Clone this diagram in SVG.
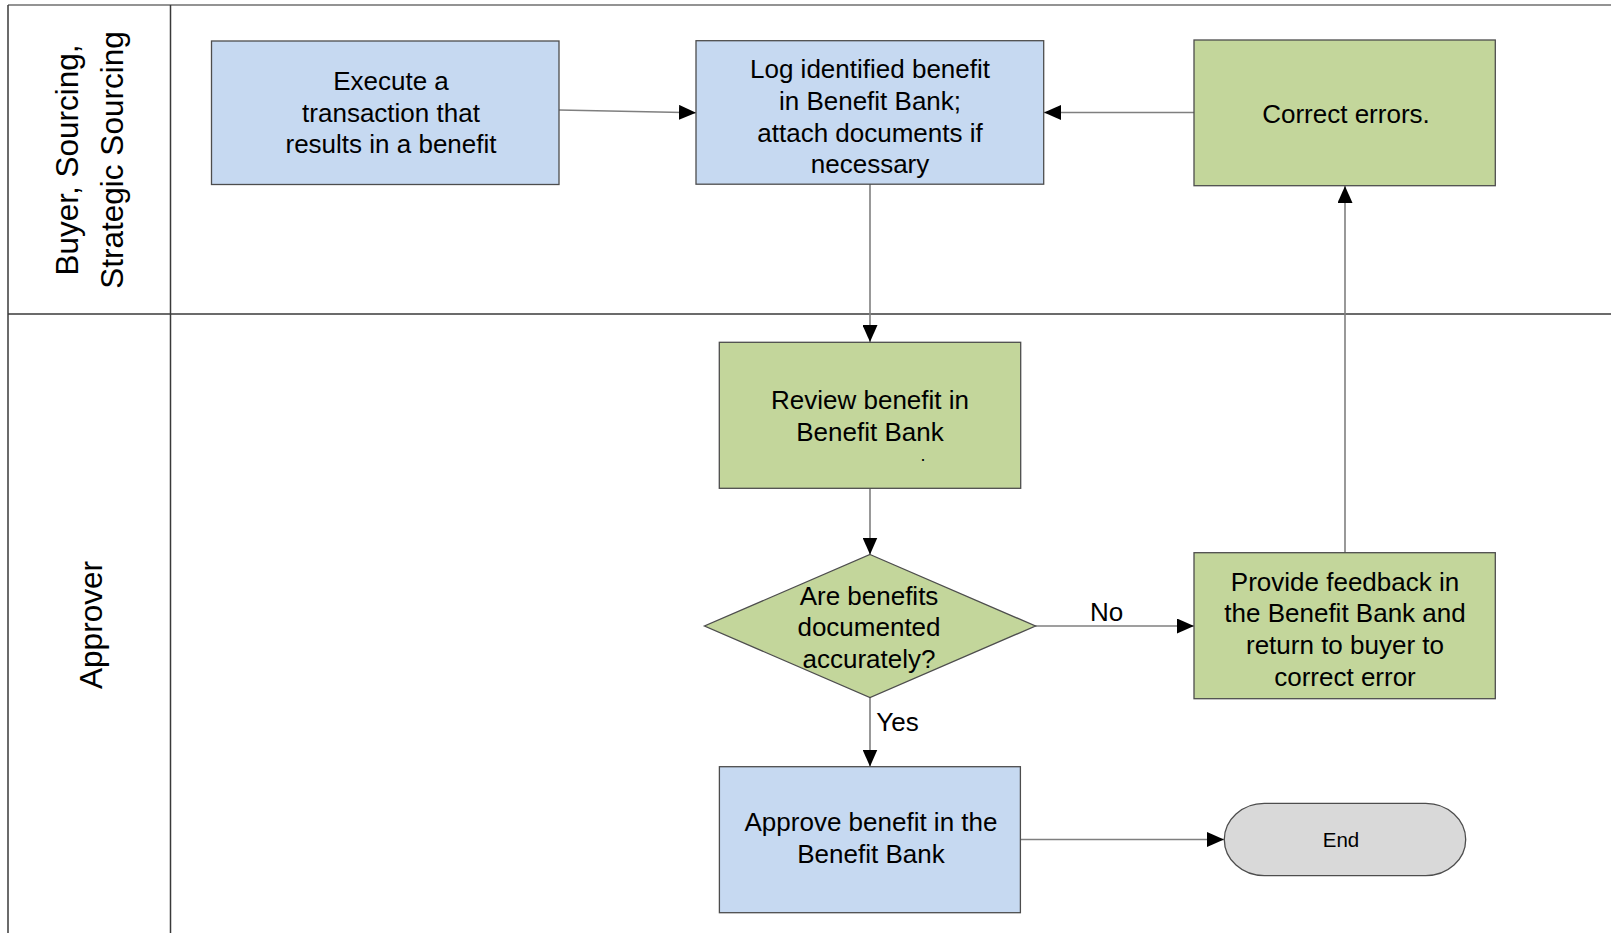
<svg xmlns="http://www.w3.org/2000/svg" width="1611" height="933" viewBox="0 0 1611 933">
<defs>
<style>
.lane{stroke:#3a3a3a;stroke-width:1.5;fill:none}
.box{stroke:#4d4d4d;stroke-width:1.3}
.blue{fill:#C6D9F1}
.green{fill:#C3D69B}
.grey{fill:#D9D9D9}
.t{font-family:"Liberation Sans",Arial,sans-serif;font-size:26px;fill:#000;text-anchor:middle}
.lt{font-family:"Liberation Sans",Arial,sans-serif;font-size:31.5px;fill:#000;text-anchor:middle}
.c{stroke:#7f7f7f;stroke-width:1.6;fill:none;marker-end:url(#ah)}
</style>
<marker id="ah" markerUnits="userSpaceOnUse" markerWidth="17" markerHeight="15" refX="17" refY="7.5" orient="auto">
<path d="M0,0 L17,7.5 L0,15 Z" fill="#000"/>
</marker>
</defs>
<rect width="1611" height="933" fill="#fff"/>
<g id="swimlanes">
<line x1="8" y1="5" x2="1611" y2="5" stroke="#6f6f6f" stroke-width="1.5"/>
<line class="lane" x1="8" y1="5" x2="8" y2="933"/>
<line class="lane" x1="170.5" y1="5" x2="170.5" y2="933"/>
<line class="lane" x1="8" y1="314" x2="1611" y2="314"/>
<text class="lt" transform="translate(77.5,160) rotate(-90)">Buyer, Sourcing,</text>
<text class="lt" transform="translate(123,160) rotate(-90)">Strategic Sourcing</text>
<text class="lt" transform="translate(102,625) rotate(-90)">Approver</text>
</g>
<g id="connectors">
<line class="c" x1="559" y1="110" x2="696" y2="112.7"/>
<line class="c" x1="1194" y1="112.5" x2="1044" y2="112.5"/>
<line class="c" x1="870" y1="184" x2="870" y2="342"/>
<line class="c" x1="870" y1="488" x2="870" y2="554.5"/>
<line class="c" x1="1035" y1="626" x2="1194" y2="626"/>
<line class="c" x1="870" y1="697" x2="870" y2="766.5"/>
<line class="c" x1="1345" y1="552.7" x2="1345" y2="186"/>
<line class="c" x1="1020.5" y1="839.5" x2="1224" y2="839.5"/>
<text class="t" x="1106.5" y="620.5">No</text>
<text class="t" x="897.5" y="731">Yes</text>
</g>
<g id="execute">
<rect class="box blue" x="211.5" y="41" width="347.5" height="143.5"/>
<text class="t" x="391" y="90">Execute a</text>
<text class="t" x="391" y="121.7">transaction that</text>
<text class="t" x="391" y="153.4">results in a benefit</text>
</g>
<g id="log">
<rect class="box blue" x="696" y="40.7" width="347.7" height="143.5"/>
<text class="t" x="870" y="78.3">Log identified benefit</text>
<text class="t" x="870" y="110">in Benefit Bank;</text>
<text class="t" x="870" y="141.7">attach documents if</text>
<text class="t" x="870" y="173.4">necessary</text>
</g>
<g id="correct">
<rect class="box green" x="1194" y="40" width="301.3" height="145.7"/>
<text class="t" x="1346" y="123">Correct errors.</text>
</g>
<g id="review">
<rect class="box green" x="719.3" y="342.3" width="301.4" height="146"/>
<text class="t" x="870" y="409">Review benefit in</text>
<text class="t" x="870" y="440.7">Benefit Bank</text>
<text class="t" x="923" y="461" style="font-size:18px">.</text>
</g>
<g id="decision">
<polygon class="box green" points="870,554.5 1035.5,626 870,697.5 704.5,626"/>
<text class="t" x="869" y="604.5">Are benefits</text>
<text class="t" x="869" y="636.2">documented</text>
<text class="t" x="869" y="667.9">accurately?</text>
</g>
<g id="feedback">
<rect class="box green" x="1194" y="552.7" width="301.3" height="146"/>
<text class="t" x="1345" y="590.5">Provide feedback in</text>
<text class="t" x="1345" y="622.2">the Benefit Bank and</text>
<text class="t" x="1345" y="653.9">return to buyer to</text>
<text class="t" x="1345" y="685.6">correct error</text>
</g>
<g id="approve">
<rect class="box blue" x="719.4" y="766.7" width="301" height="146"/>
<text class="t" x="871" y="831">Approve benefit in the</text>
<text class="t" x="871" y="862.7">Benefit Bank</text>
</g>
<g id="end">
<rect class="box grey" x="1224.3" y="803.3" width="241.4" height="72.4" rx="40" ry="36.2"/>
<text class="t" x="1341" y="846.7" style="font-size:20.5px">End</text>
</g>
</svg>
